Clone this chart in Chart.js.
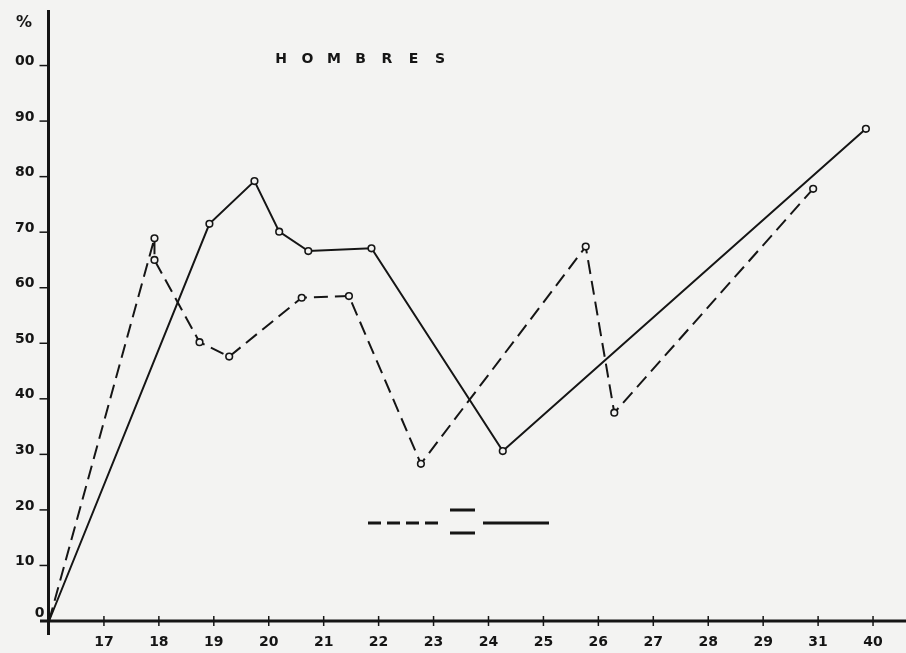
<!DOCTYPE html>
<html lang="es">
<head>
    <meta charset="UTF-8">
    <title>Hombres</title>
    <script src="https://cdn.jsdelivr.net/npm/chart.js"></script>
    <style>
        html, body { margin: 0; padding: 0; background: #f3f3f2; }
        #wrap { width: 906px; height: 653px; position: relative; }
    </style>
</head>
<body>
    <div id="wrap"><canvas id="chart"></canvas></div>

    <script>
        // Etiquetas del eje X (posiciones 1..15, el origen queda sin etiqueta)
        const xTickLabels = ['17', '18', '19', '20', '21', '22', '23', '24', '25', '26', '27', '28', '29', '31', '40'];
        // Eje Y en %
        const yTickValues = [0, 10, 20, 30, 40, 50, 60, 70, 80, 90, 100];
        const yTickLabels = ['0', '10', '20', '30', '40', '50', '60', '70', '80', '90', '00'];

        // Serie discontinua
        const dashedX = [0, 1.92, 1.92, 2.74, 3.28, 4.60, 5.46, 6.77, 9.77, 10.29, 13.91];
        const dashedY = [0, 68.9, 65.0, 50.2, 47.6, 58.2, 58.5, 28.3, 67.4, 37.5, 77.8];

        // Serie continua
        const solidX = [0, 2.92, 3.74, 4.19, 4.72, 5.87, 8.26, 14.87];
        const solidY = [0, 71.5, 79.2, 70.1, 66.6, 67.1, 30.6, 88.6];

        const titleText = 'HOMBRES';
        const ink = '#151515';
        const paper = '#f3f3f2';
        const labelFont = "bold 14px 'DejaVu Sans'";

        function toPoints(xs, ys) {
            return xs.map((x, i) => ({ x: x, y: ys[i] }));
        }

        // ejes, marcas, textos y leyenda dibujados a mano, como en el original
        const paperAxes = {
            id: 'paperAxes',
            beforeDraw(chart) {
                const c = chart.ctx;
                c.save();
                c.fillStyle = paper;
                c.fillRect(0, 0, chart.width, chart.height);
                c.restore();
            },
            beforeDatasetsDraw(chart) {
                const c = chart.ctx;
                const xs = chart.scales.x;
                const ys = chart.scales.y;
                const x0 = xs.getPixelForValue(0) - 0.5;
                const y0 = ys.getPixelForValue(0);

                c.save();
                c.strokeStyle = ink;
                c.fillStyle = ink;

                // ejes
                c.lineWidth = 3;
                c.beginPath();
                c.moveTo(x0, 10);
                c.lineTo(x0, 635);
                c.moveTo(40, y0);
                c.lineTo(chart.width, y0);
                c.stroke();

                // marcas y etiquetas Y
                c.lineWidth = 1.5;
                c.font = labelFont;
                c.textAlign = 'right';
                c.textBaseline = 'middle';
                yTickValues.forEach((v, i) => {
                    const py = ys.getPixelForValue(v);
                    if (v === 0) {
                        c.fillText(yTickLabels[i], x0 - 4, py - 8);
                        return;
                    }
                    c.beginPath();
                    c.moveTo(x0 - 9, py);
                    c.lineTo(x0, py);
                    c.stroke();
                    c.fillText(yTickLabels[i], x0 - 14, py - 4);
                });
                c.textAlign = 'center';
                c.font = "bold 16px 'DejaVu Sans'";
                c.fillText('%', 24, 23);
                c.font = labelFont;

                // marcas y etiquetas X
                xTickLabels.forEach((lab, i) => {
                    const px = xs.getPixelForValue(i + 1);
                    c.beginPath();
                    c.moveTo(px, y0 - 5);
                    c.lineTo(px, y0 + 5);
                    c.stroke();
                    c.fillText(lab, px, y0 + 21);
                });

                // título espaciado
                titleText.split('').forEach((ch, i) => {
                    c.fillText(ch, 281 + i * 26.5, 59);
                });

                // leyenda:  - - - -  =  ———
                c.lineWidth = 3;
                c.setLineDash([13, 6]);
                c.beginPath();
                c.moveTo(368, 523);
                c.lineTo(441, 523);
                c.stroke();
                c.setLineDash([]);
                c.beginPath();
                c.moveTo(450, 510);
                c.lineTo(475, 510);
                c.moveTo(450, 533);
                c.lineTo(475, 533);
                c.moveTo(483, 523);
                c.lineTo(549, 523);
                c.stroke();

                c.restore();
            }
        };

        const pointRadii = (n) => Array.from({ length: n }, (_, i) => (i === 0 ? 0 : 3.3));

        new Chart(document.getElementById('chart'), {
            type: 'line',
            data: {
                datasets: [
                    {
                        label: 'discontinua',
                        data: toPoints(dashedX, dashedY),
                        borderColor: ink,
                        borderWidth: 2,
                        borderDash: [14, 7],
                        pointRadius: pointRadii(dashedX.length),
                        pointBackgroundColor: paper,
                        pointBorderColor: ink,
                        pointBorderWidth: 1.6,
                        tension: 0,
                        clip: false
                    },
                    {
                        label: 'continua',
                        data: toPoints(solidX, solidY),
                        borderColor: ink,
                        borderWidth: 2,
                        pointRadius: pointRadii(solidX.length),
                        pointBackgroundColor: paper,
                        pointBorderColor: ink,
                        pointBorderWidth: 1.6,
                        tension: 0,
                        clip: false
                    }
                ]
            },
            options: {
                responsive: true,
                maintainAspectRatio: false,
                animation: false,
                layout: { autoPadding: false, padding: { left: 49, right: 0, top: 10, bottom: 32 } },
                scales: {
                    x: { type: 'linear', min: 0, max: 15.6, display: false },
                    y: { type: 'linear', min: 0, max: 110, display: false }
                },
                plugins: {
                    legend: { display: false },
                    tooltip: { enabled: false }
                }
            },
            plugins: [paperAxes]
        });
    </script>
</body>
</html>
